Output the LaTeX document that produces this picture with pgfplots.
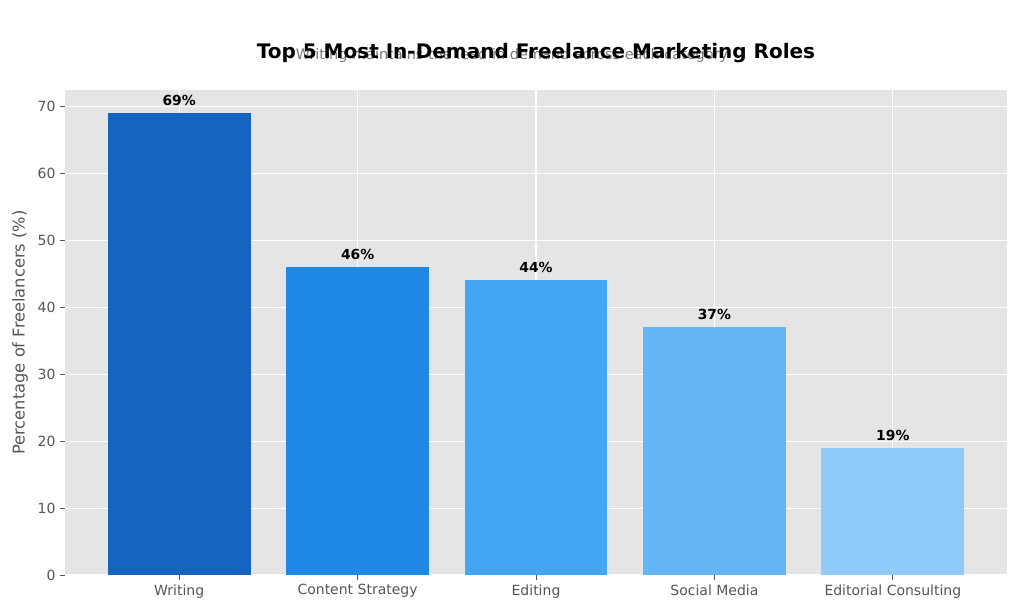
\documentclass[border=0pt]{standalone}
\usepackage{pgfplots}
\pgfplotsset{compat=1.18}
\usepackage{fontspec}
\setmainfont{DejaVu Sans}
\definecolor{bg}{HTML}{E5E5E5}
\definecolor{tickgray}{HTML}{555555}
\definecolor{subgray}{HTML}{777777}
\definecolor{c1}{HTML}{1565C0}
\definecolor{c2}{HTML}{1E88E5}
\definecolor{c3}{HTML}{42A5F5}
\definecolor{c4}{HTML}{64B5F6}
\definecolor{c5}{HTML}{90CAF9}
\begin{document}
\begin{tikzpicture}
\path[use as bounding box] (0,0) rectangle (768pt,461.25pt);
\begin{axis}[
  at={(48.75pt,30pt)}, anchor=south west,
  scale only axis, width=706.5pt, height=363.75pt,
  xmin=-0.64, xmax=4.64, ymin=0, ymax=72.45,
  ybar, bar width=0.8, bar shift=0pt,
  axis background/.style={fill=bg},
  axis line style={draw=none},
  grid=major, major grid style={white, line width=0.8pt},
  xtick={0,1,2,3,4},
  xticklabels={Writing, Content Strategy, Editing, Social Media, Editorial Consulting},
  ytick={0,10,20,30,40,50,60,70},
  xtick pos=bottom, ytick pos=left,
  tick align=outside, major tick length=3.6pt,
  tick style={tickgray, line width=0.6pt},
  ticklabel style={font=\fontsize{10.5}{12}\selectfont, text=tickgray},
  /pgf/number format/assume math mode=true,
  ylabel={Percentage of Freelancers (\%)},
  ylabel style={at={(axis description cs:-0.0475,0.5)}, anchor=center, font=\fontsize{12.2}{14}\selectfont, text=tickgray},
  nodes near coords={\pgfmathprintnumber{\pgfplotspointmeta}\%},
  every node near coord/.append style={font=\bfseries\fontsize{10.4}{12}\selectfont, text=black, yshift=2pt},
]
\addplot[fill=c1, draw=none] coordinates {(0,69)};
\addplot[fill=c2, draw=none] coordinates {(1,46)};
\addplot[fill=c3, draw=none] coordinates {(2,44)};
\addplot[fill=c4, draw=none] coordinates {(3,37)};
\addplot[fill=c5, draw=none] coordinates {(4,19)};
\end{axis}
\node[text=subgray, font=\fontsize{10.85}{13}\selectfont] at (384pt,419.5pt) {Writing maintains the lead in demand across each category};
\node[font=\bfseries\fontsize{15}{18}\selectfont] at (402pt,421.5pt) {Top 5 Most In-Demand Freelance Marketing Roles};
\end{tikzpicture}
\end{document}
